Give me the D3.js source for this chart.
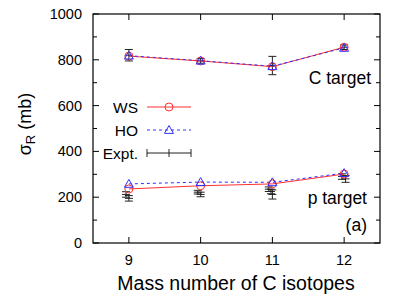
<!DOCTYPE html>
<html><head><meta charset="utf-8">
<script src="https://cdn.jsdelivr.net/npm/d3@7"></script>
<style>body{margin:0;background:#fff}text{font-family:"Liberation Sans",Arial,sans-serif}</style>
</head><body><svg id="c" width="399" height="306"></svg>
<script>
const isotopes = [9, 10, 11, 12];
const wsC = [816, 795, 770, 855];
const hoC = [818, 796, 772, 852];
const wsP = [236, 250, 258, 301];
const hoP = [258, 266, 265, 305];
// experimental points: [mass number (slightly offset), value, error]
const exptX = [9.0, 10.0, 11.0, 12.0, 8.96, 9.0, 9.96, 10.0, 10.95, 10.98, 11.0, 11.97, 12.02];
const exptY = [820, 795, 775, 855, 212, 195, 222, 212, 235, 225, 212, 290, 280];
const exptE = [25, 10, 40, 10, 12, 12, 8, 10, 10, 10, 20, 12, 15];
const yTicks = [0, 200, 400, 600, 800, 1000];
const xTicks = [9, 10, 11, 12];

const svg = d3.select("#c");
const L = 93, R = 380, T = 14, B = 243;
const x = d3.scaleLinear().domain([8.5, 12.5]).range([L, R]);
const y = d3.scaleLinear().domain([0, 1000]).range([B, T]);

// ticks (inward, all four sides)
const g = svg.append("g").attr("stroke", "#000").attr("stroke-width", 1);
d3.range(0, 1001, 100).forEach(v => {
  const len = v % 200 === 0 ? 6 : 4;
  g.append("line").attr("x1", L).attr("x2", L + len).attr("y1", y(v)).attr("y2", y(v));
  g.append("line").attr("x1", R).attr("x2", R - len).attr("y1", y(v)).attr("y2", y(v));
});
xTicks.forEach(v => {
  g.append("line").attr("x1", x(v)).attr("x2", x(v)).attr("y1", B).attr("y2", B - 6);
  g.append("line").attr("x1", x(v)).attr("x2", x(v)).attr("y1", T).attr("y2", T + 6);
});
svg.append("rect").attr("x", L).attr("y", T).attr("width", R - L).attr("height", B - T)
  .attr("fill", "none").attr("stroke", "#000").attr("stroke-width", 1.2);

yTicks.forEach(v => svg.append("text").attr("x", 82).attr("y", y(v) + 5)
  .attr("text-anchor", "end").attr("font-size", 14.5).text(v));
xTicks.forEach(v => svg.append("text").attr("x", x(v)).attr("y", 265)
  .attr("text-anchor", "middle").attr("font-size", 14.5).text(v));

svg.append("text").attr("x", 236).attr("y", 290).attr("text-anchor", "middle")
  .attr("font-size", 19.5).text("Mass number of C isotopes");
const yl = svg.append("text").attr("transform", "translate(31,124) rotate(-90)")
  .attr("text-anchor", "middle").attr("font-size", 18);
yl.append("tspan").text("σ");
yl.append("tspan").attr("font-size", 13).attr("dy", 4).text("R");
yl.append("tspan").attr("dy", -4).text(" (mb)");

const line = d3.line().x((d, i) => x(isotopes[i])).y(d => y(d));
const red = "#ff3030", blue = "#3030ff", gray = "#222";

function errbar(px, py, e) {
  const gg = svg.append("g").attr("stroke", gray).attr("stroke-width", 1);
  gg.append("line").attr("x1", x(px)).attr("x2", x(px)).attr("y1", y(py - e)).attr("y2", y(py + e));
  gg.append("line").attr("x1", x(px) - 4).attr("x2", x(px) + 4).attr("y1", y(py - e)).attr("y2", y(py - e));
  gg.append("line").attr("x1", x(px) - 4).attr("x2", x(px) + 4).attr("y1", y(py + e)).attr("y2", y(py + e));
  gg.append("line").attr("x1", x(px) - 4).attr("x2", x(px) + 4).attr("y1", y(py)).attr("y2", y(py));
}
exptX.forEach((px, i) => errbar(px, exptY[i], exptE[i]));

function tri(cx, cy) {
  const s = 4.5;
  return `M${cx},${cy - s}L${cx + s},${cy + s * 0.75}L${cx - s},${cy + s * 0.75}Z`;
}
[[wsC, hoC], [wsP, hoP]].forEach(([ws, ho]) => {
  svg.append("path").datum(ws).attr("d", line).attr("fill", "none").attr("stroke", red).attr("stroke-width", 1);
  svg.append("path").datum(ho).attr("d", line).attr("fill", "none").attr("stroke", blue)
    .attr("stroke-width", 1).attr("stroke-dasharray", "3,3");
  ws.forEach((v, i) => svg.append("circle").attr("cx", x(isotopes[i])).attr("cy", y(v)).attr("r", 4)
    .attr("fill", "none").attr("stroke", red).attr("stroke-width", 1));
  ho.forEach((v, i) => svg.append("path").attr("d", tri(x(isotopes[i]), y(v)))
    .attr("fill", "none").attr("stroke", blue).attr("stroke-width", 1));
});

// legend
const lx1 = 147, lx2 = 191, lm = 169;
const ly = [107, 130, 153];
const labels = ["WS", "HO", "Expt."];
labels.forEach((t, i) => svg.append("text").attr("x", 138).attr("y", ly[i] + 5.5)
  .attr("text-anchor", "end").attr("font-size", 15.5).text(t));
svg.append("line").attr("x1", lx1).attr("x2", lx2).attr("y1", ly[0]).attr("y2", ly[0]).attr("stroke", red);
svg.append("circle").attr("cx", lm).attr("cy", ly[0]).attr("r", 4).attr("fill", "none").attr("stroke", red);
svg.append("line").attr("x1", lx1).attr("x2", lx2).attr("y1", ly[1]).attr("y2", ly[1]).attr("stroke", blue).attr("stroke-dasharray", "3,3");
svg.append("path").attr("d", tri(lm, ly[1])).attr("fill", "none").attr("stroke", blue);
const lg = svg.append("g").attr("stroke", gray);
lg.append("line").attr("x1", lx1).attr("x2", lx2).attr("y1", ly[2]).attr("y2", ly[2]);
[lx1, lm, lx2].forEach(px => lg.append("line").attr("x1", px).attr("x2", px).attr("y1", ly[2] - 4).attr("y2", ly[2] + 4));

svg.append("text").attr("x", 371).attr("y", 84).attr("text-anchor", "end").attr("font-size", 17.5).text("C target");
svg.append("text").attr("x", 367).attr("y", 204).attr("text-anchor", "end").attr("font-size", 17.5).text("p target");
svg.append("text").attr("x", 367).attr("y", 231).attr("text-anchor", "end").attr("font-size", 17.5).text("(a)");
</script></body></html>
